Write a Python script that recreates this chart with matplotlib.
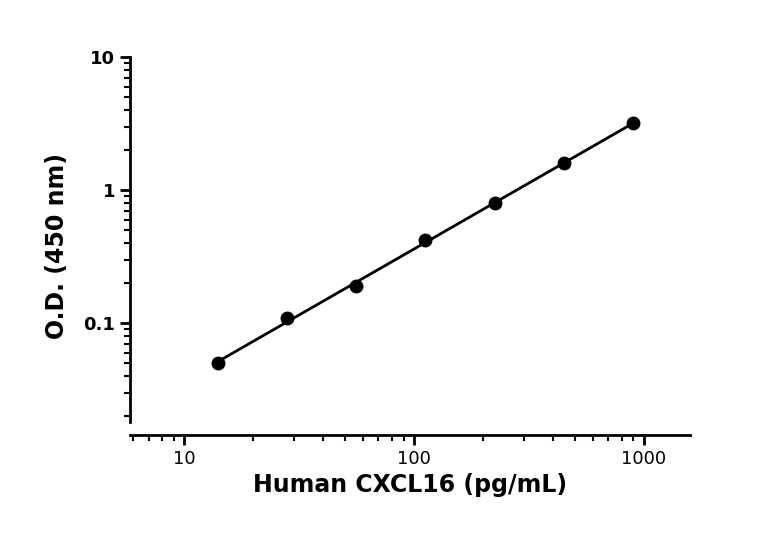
import numpy as np
import matplotlib.pyplot as plt
from matplotlib.ticker import LogLocator, NullFormatter, FixedLocator, FixedFormatter

# data
conc = [14, 28, 56, 112, 225, 450, 900]
od = [0.05, 0.11, 0.19, 0.42, 0.80, 1.6, 3.2]
x_ticks = [10, 100, 1000]
x_labels = ['10', '100', '1000']
y_ticks = [0.1, 1, 10]
y_labels = ['0.1', '1', '10']

fig = plt.figure(figsize=(7.68, 5.43), dpi=100)
ax = fig.add_axes([0.169, 0.199, 0.729, 0.696])

# log-log linear fit
k, b = np.polyfit(np.log10(conc), np.log10(od), 1)
xf = np.array([conc[0], conc[-1]])
ax.plot(xf, 10 ** (k * np.log10(xf) + b), color='black', lw=2)
ax.plot(conc, od, 'o', color='black', ms=9)

ax.set_xscale('log')
ax.set_yscale('log')
ax.set_xlim(5.8, 1580)
ax.set_ylim(0.0145, 10)

ax.xaxis.set_major_locator(FixedLocator(x_ticks))
ax.xaxis.set_major_formatter(FixedFormatter(x_labels))
ax.yaxis.set_major_locator(FixedLocator(y_ticks))
ax.yaxis.set_major_formatter(FixedFormatter(y_labels))
ax.xaxis.set_minor_locator(LogLocator(base=10, subs=np.arange(2, 10)))
ax.yaxis.set_minor_locator(LogLocator(base=10, subs=np.arange(2, 10)))
ax.xaxis.set_minor_formatter(NullFormatter())
ax.yaxis.set_minor_formatter(NullFormatter())

for s in ['top', 'right']:
    ax.spines[s].set_visible(False)
for s in ['left', 'bottom']:
    ax.spines[s].set_linewidth(2)
ax.spines['left'].set_bounds(0.018, 10)

ax.tick_params(which='major', length=7, width=2, labelsize=13)
ax.tick_params(which='minor', length=4, width=1.5)
for lab in ax.get_yticklabels():
    lab.set_fontweight('bold')

ax.set_xlabel('Human CXCL16 (pg/mL)', fontsize=17, fontweight='bold')
ax.set_ylabel('O.D. (450 nm)', fontsize=17, fontweight='bold', labelpad=10)

fig.savefig('out.png', dpi=100)
